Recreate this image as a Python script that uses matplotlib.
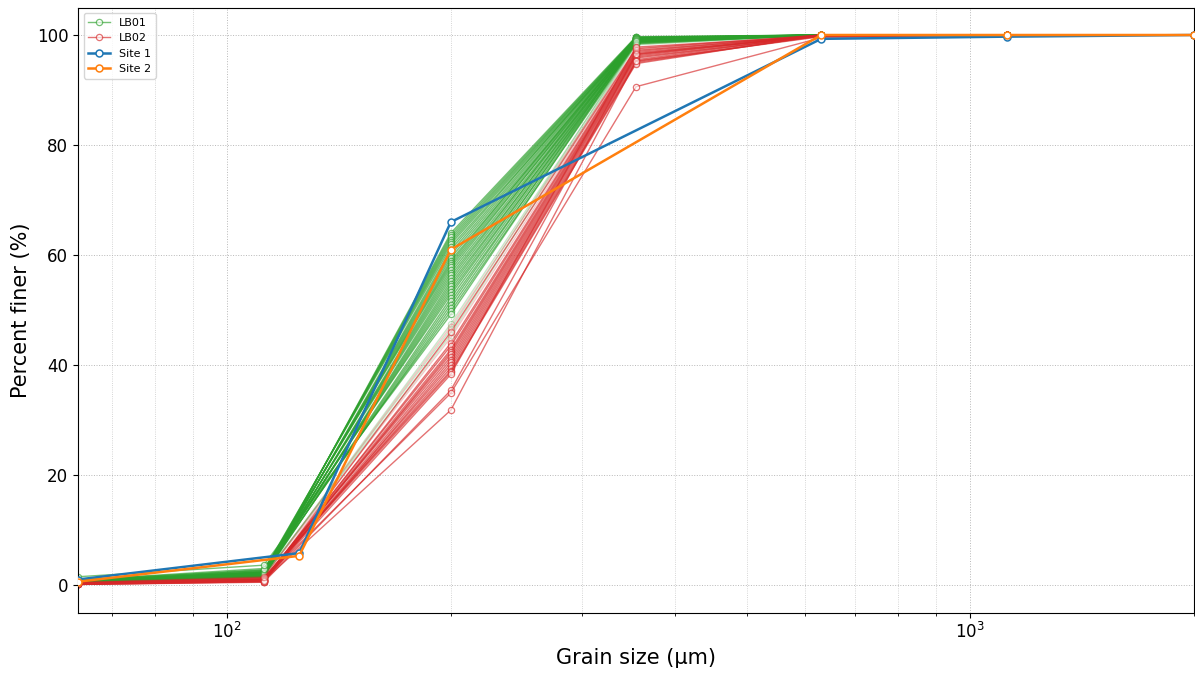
import matplotlib
matplotlib.use("Agg")
import matplotlib.pyplot as plt
from matplotlib.ticker import LogLocator, NullFormatter

# Sieve sizes (µm)
sieves_lb = [63, 112, 200, 355, 630, 1120, 2000]
sieves_site = [63, 125, 200, 630, 1120, 2000]

# LB01 (green) percent finer at each sieve, one entry per sample
lb01_63 = [0.4, 0.5, 0.6, 0.7, 0.8, 0.9, 1.0, 0.5, 0.6, 0.7, 0.8, 0.4, 0.5, 0.6, 0.7,
           0.8, 0.9, 0.5, 0.6, 0.7, 0.4, 0.5, 0.6, 0.7, 0.8, 0.5, 0.6, 0.7, 0.8, 0.9, 1.5,
           0.6, 0.7, 0.5]
lb01_112 = [1.4, 1.6, 1.8, 2.0, 2.2, 2.4, 2.6, 1.5, 1.7, 1.9, 2.1, 2.3, 2.5, 2.7, 1.6,
            1.8, 2.0, 2.2, 2.4, 1.5, 1.7, 1.9, 2.1, 2.3, 2.8, 1.6, 1.8, 2.0, 2.2, 3.0, 3.6,
            1.4, 1.6, 1.8]
lb01_200 = [64.0, 63.6, 63.2, 62.8, 62.4, 62.0, 61.5, 61.0, 60.5, 60.0, 59.5, 59.0, 58.6,
            58.2, 57.8, 57.3, 56.8, 56.3, 55.8, 55.3, 54.8, 54.3, 53.8, 53.3, 52.8, 52.2,
            51.6, 51.0, 50.4, 49.8, 49.2, 47.5, 46.5, 45.5]
lb01_355 = [99.7, 99.6, 99.5, 99.5, 99.4, 99.3, 99.2, 99.6, 99.4, 99.3, 99.1, 99.0, 99.5,
            99.2, 98.9, 99.4, 99.0, 98.8, 99.3, 99.1, 98.7, 99.2, 98.9, 98.6, 99.0, 98.8,
            98.5, 99.1, 98.7, 98.4, 98.9, 98.3, 98.6, 98.2]
lb01_630 = [100.0] * 34
lb01_1120 = [100.0] * 34
lb01_2000 = [100.0] * 34

# LB02 (red)
lb02_63 = [0.1, 0.2, 0.3, 0.2, 0.1, 0.3, 0.4, 0.2, 0.1, 0.3, 0.2, 0.4, 0.3, 0.2, 0.1,
           0.3, 0.2, 0.4, 0.5]
lb02_112 = [0.6, 0.8, 1.0, 0.9, 0.7, 1.1, 1.2, 0.8, 0.6, 1.0, 0.9, 1.3, 1.1, 0.7, 0.5,
            1.0, 0.8, 1.4, 1.5]
lb02_200 = [46.0, 44.0, 43.5, 42.8, 42.4, 42.0, 41.5, 41.0, 40.5, 40.0, 39.5, 39.0, 38.7,
            38.3, 35.4, 34.9, 31.8, 47.0, 45.0]
lb02_355 = [97.5, 97.2, 97.0, 96.8, 96.6, 96.4, 96.2, 96.0, 95.8, 95.5, 95.2, 95.0, 94.8,
            97.8, 96.5, 90.6, 95.3, 97.6, 97.3]
lb02_630 = [100.0, 99.9, 100.0, 99.8, 100.0, 99.9, 100.0, 99.8, 99.9, 100.0, 99.7, 99.9,
            100.0, 99.8, 99.9, 99.5, 99.8, 100.0, 99.9]
lb02_1120 = [100.0] * 19
lb02_2000 = [100.0] * 19

# Site samples
site1 = [1.0, 5.8, 66.0, 99.3, 99.7, 100.0]
site2 = [0.6, 5.3, 61.0, 100.0, 100.0, 100.0]

W, H = 1195, 673
fig = plt.figure(figsize=(W / 100, H / 100), dpi=100)
ax = fig.add_axes([78 / W, 60.5 / H, (1194 - 78) / W, (665.5 - 60.5) / H])

green = "#2ca02c"
red = "#d62728"

def draw(series, color, n_pale, label):
    n = len(series[0])
    for i in range(n):
        vals = [s[i] for s in series]
        pale = i >= n - n_pale
        ax.plot(sieves_lb, vals, color=color, lw=1.0, alpha=0.25 if pale else 0.65,
                marker="o", ms=4.5, mfc="white", mew=0.9,
                label=label if i == 0 else None, zorder=2)

draw([lb01_63, lb01_112, lb01_200, lb01_355, lb01_630, lb01_1120, lb01_2000],
     green, 3, "LB01")
draw([lb02_63, lb02_112, lb02_200, lb02_355, lb02_630, lb02_1120, lb02_2000],
     red, 2, "LB02")

ax.plot(sieves_site, site1, color="#1f77b4", lw=1.8, marker="o", ms=5, mfc="white",
        mew=1.1, label="Site 1", zorder=3)
ax.plot(sieves_site, site2, color="#ff7f0e", lw=1.8, marker="o", ms=5, mfc="white",
        mew=1.1, label="Site 2", zorder=3)

ax.set_xscale("log")
ax.set_xlim(63, 2000)
ax.set_ylim(-5, 105)
ax.set_yticks([0, 20, 40, 60, 80, 100])
ax.xaxis.set_minor_locator(LogLocator(base=10, subs=range(2, 10), numticks=20))
ax.xaxis.set_minor_formatter(NullFormatter())
ax.grid(True, which="major", ls=":", lw=0.7, color="#b8b8b8")
ax.grid(True, which="minor", axis="x", ls=":", lw=0.6, color="#c8c8c8")
ax.tick_params(labelsize=12)
ax.set_xlabel("Grain size (µm)", fontsize=15)
ax.set_ylabel("Percent finer (%)", fontsize=15)
leg = ax.legend(loc="upper left", fontsize=8, framealpha=0.8)

fig.savefig("out.png", dpi=100)
